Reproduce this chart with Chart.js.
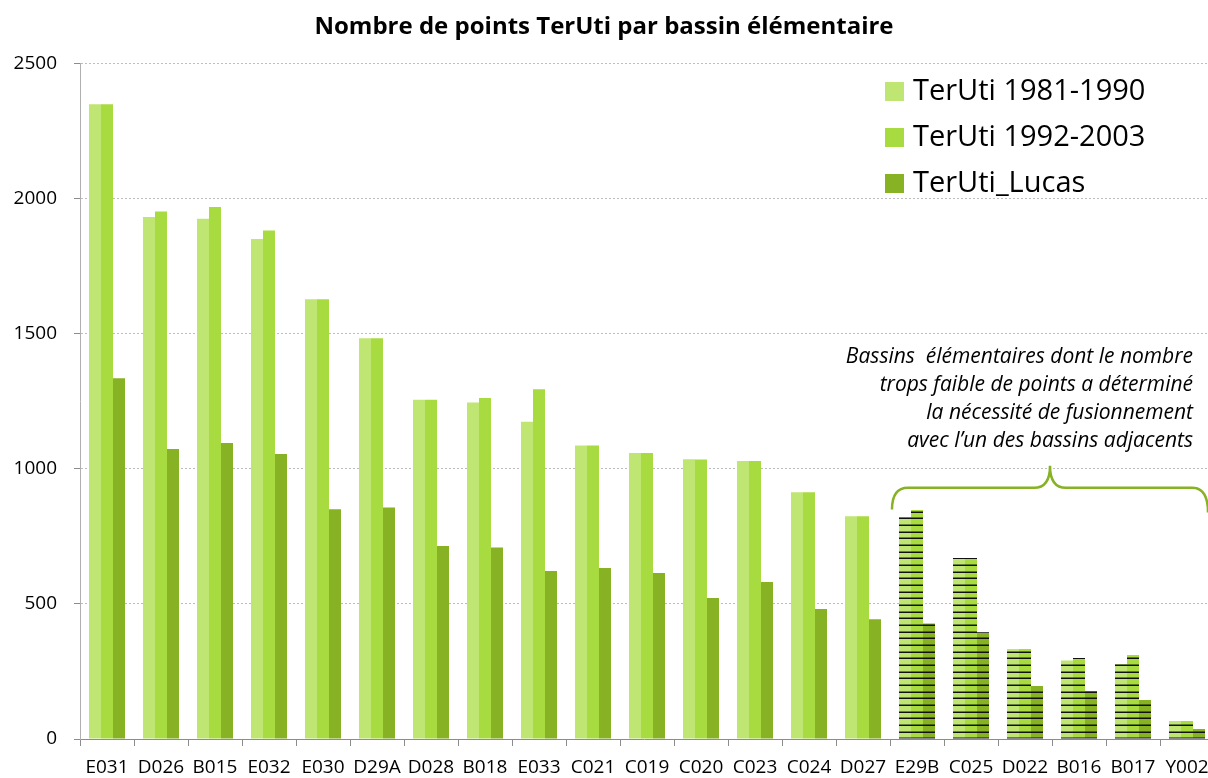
<!DOCTYPE html>
<html>
<head>
<meta charset="utf-8">
<script src="https://cdn.jsdelivr.net/npm/chart.js@4/dist/chart.umd.min.js"></script>
<style>
  html, body { margin: 0; padding: 0; background: #fff; overflow: hidden; }
  canvas { display: block; }
</style>
</head>
<body>
<canvas id="bar-chart" width="1208" height="778"></canvas>
<script>
var categories = ["E031", "D026", "B015", "E032", "E030", "D29A", "D028", "B018", "E033", "C021",
  "C019", "C020", "C023", "C024", "D027", "E29B", "C025", "D022", "B016", "B017", "Y002"];
var teruti8190 = [2350, 1933, 1926, 1851, 1628, 1484, 1256, 1246, 1175, 1087,
  1059, 1036, 1029, 914, 825, 822, 670, 333, 291, 278, 67];
var teruti9203 = [2350, 1953, 1970, 1883, 1628, 1484, 1256, 1263, 1295, 1087,
  1059, 1035, 1029, 914, 825, 848, 670, 333, 300, 311, 67];
var terutiLucas = [1336, 1074, 1096, 1055, 851, 857, 715, 709, 622, 633,
  615, 522, 581, 481, 443, 428, 395, 196, 178, 144, 37];
// basins that had to be merged with a neighbour (hatched)
var merged = ["E29B", "C025", "D022", "B016", "B017", "Y002"];
var seriesNames = ["TerUti 1981-1990", "TerUti 1992-2003", "TerUti_Lucas"];
var seriesColors = ["#bfe573", "#a8db3f", "#86b224"];
var noteLines = [
  "Bassins  élémentaires dont le nombre",
  "trops faible de points a déterminé",
  "la nécessité de fusionnement",
  "avec l\u2019un des bassins adjacents"
];

var FONT = "'Open Sans', 'Noto Sans', sans-serif";

function stripes(color) {
  var c = document.createElement("canvas");
  c.width = 8; c.height = 20;
  var g = c.getContext("2d");
  g.fillStyle = color;
  g.fillRect(0, 0, 8, 20);
  [5, 12, 18].forEach(function (y) {
    g.fillStyle = "rgba(0,0,0,0.45)";
    g.fillRect(0, y - 1, 8, 1);
    g.fillStyle = "#111";
    g.fillRect(0, y, 8, 1);
  });
  return g.createPattern(c, "repeat");
}

function fills(color) {
  var pat = stripes(color);
  return categories.map(function (c) {
    return merged.indexOf(c) >= 0 ? pat : color;
  });
}

// the original plot runs a few pixels past the right edge (Y002 is cut)
var overflowRight = {
  id: "overflowRight",
  afterLayout: function (chart) {
    var right = chart.width + 6;
    var area = chart.chartArea;
    area.right = right;
    area.width = right - area.left;
    var xs = chart.scales.x;
    xs.right = right;
    xs.width = right - xs.left;
    xs._gridLineItems = null;
    xs._labelItems = null;
    xs.configure();
    chart.scales.y._gridLineItems = null;
  }
};

var extras = {
  id: "extras",
  afterDraw: function (chart) {
    var ctx = chart.ctx;
    var x = chart.scales.x, y = chart.scales.y;
    ctx.save();

    // legend inside the plot
    ctx.font = "29px " + FONT;
    ctx.textBaseline = "middle";
    ctx.textAlign = "left";
    [91, 137, 183].forEach(function (cy, i) {
      ctx.fillStyle = seriesColors[i];
      ctx.fillRect(885, cy - 9, 19, 19);
      ctx.fillStyle = "#000";
      ctx.fillText(seriesNames[i], 913, cy + 1);
    });

    // note
    ctx.font = "italic 21px " + FONT;
    ctx.textAlign = "right";
    noteLines.forEach(function (t, i) {
      ctx.fillText(t, 1193, 357 + i * 28);
    });

    // curly brace over the merged basins
    var first = categories.indexOf(merged[0]);
    var half = (x.getPixelForValue(1) - x.getPixelForValue(0)) / 2;
    var xl = x.getPixelForValue(first) - half + 2;
    var xr = x.getPixelForValue(categories.length - 1) + half - 6;
    var xm = (xl + xr) / 2;
    var yEnd = y.getPixelForValue(850), yBar = y.getPixelForValue(930), yTip = y.getPixelForValue(1012);
    var r = 16;
    ctx.strokeStyle = "#86b224";
    ctx.lineWidth = 2.5;
    ctx.beginPath();
    ctx.moveTo(xl, yEnd);
    ctx.quadraticCurveTo(xl, yBar, xl + r, yBar);
    ctx.lineTo(xm - r, yBar);
    ctx.quadraticCurveTo(xm, yBar, xm, yTip);
    ctx.quadraticCurveTo(xm, yBar, xm + r, yBar);
    ctx.lineTo(xr - r, yBar);
    ctx.quadraticCurveTo(xr, yBar, xr, yEnd + 3);
    ctx.stroke();

    ctx.restore();
  }
};

var config = {
  type: "bar",
  data: {
    labels: categories,
    datasets: [
      { label: seriesNames[0], data: teruti8190, backgroundColor: fills(seriesColors[0]) },
      { label: seriesNames[1], data: teruti9203, backgroundColor: fills(seriesColors[1]) },
      { label: seriesNames[2], data: terutiLucas, backgroundColor: fills(seriesColors[2]) },
    ],
  },
  options: {
    responsive: false,
    animation: false,
    layout: { padding: 0 },
    datasets: {
      bar: { categoryPercentage: 0.667, barPercentage: 1.0, borderWidth: 0 },
    },
    plugins: {
      legend: { display: false },
      tooltip: { enabled: false },
      title: {
        display: true,
        text: "Nombre de points TerUti par bassin élémentaire",
        color: "#000",
        font: { family: FONT, size: 24, weight: "bold", lineHeight: 1.2 },
        padding: { top: 13, bottom: 22 },
      },
    },
    scales: {
      x: {
        afterFit: function (s) { s.height = 39; },
        grid: { drawOnChartArea: false, tickLength: 7, tickColor: "#8c8c8c", offset: true },
        border: { color: "#8c8c8c", width: 1 },
        ticks: { color: "#000", padding: 10, maxRotation: 0, autoSkip: false,
          font: { family: FONT, size: 19 } },
      },
      y: {
        min: 0,
        max: 2500,
        afterFit: function (s) { s.width = 80; },
        grid: { color: "#bdbdbd", tickLength: 6, tickColor: "#8c8c8c" },
        border: { color: "#b0b0b0", width: 1, dash: [2, 2] },
        ticks: { stepSize: 500, color: "#000", padding: 17,
          callback: function (v) { return String(v); },
          font: { family: FONT, size: 19 } },
      },
    },
  },
  plugins: [overflowRight, extras],
};

var ctx = document.getElementById("bar-chart").getContext("2d");
window.myBar = new Chart(ctx, config);
</script>
</body>
</html>
